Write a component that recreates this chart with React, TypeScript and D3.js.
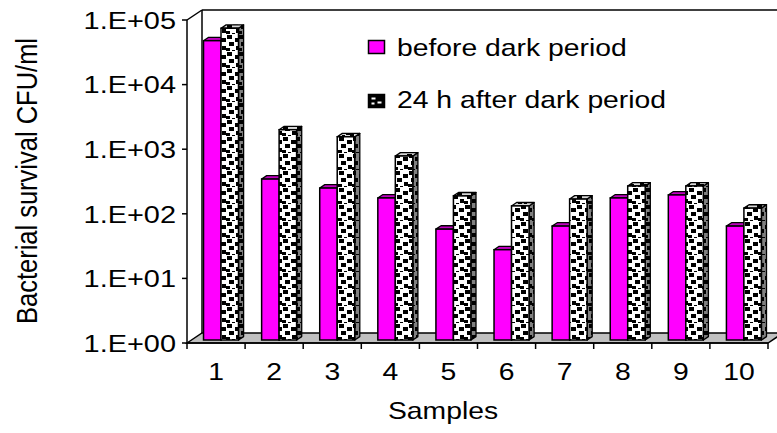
import React from "react";
import * as d3 from "d3";

const categories = ["1", "2", "3", "4", "5", "6", "7", "8", "9", "10"];
const seriesNames = ["before dark period", "24 h after dark period"];
const beforeValues = [43000, 310, 225, 158, 52, 25, 58, 158, 176, 58];
const afterValues = [67000, 1800, 1400, 705, 170, 119, 152, 242, 242, 110];
const yTicks = [1, 10, 100, 1000, 10000, 100000];
const yTickLabels = ["1.E+00", "1.E+01", "1.E+02", "1.E+03", "1.E+04", "1.E+05"];

const W = 777;
const H = 433;
const FONT = "'Liberation Sans', Arial, Helvetica, sans-serif";
const SX = 1.18;

export default function App() {
  const left = 187;
  const right = 768;
  const top = 20;
  const bottom = 343;
  const depth = { dx: 15, dy: -10 };
  const frontF = 0.3;
  const barDepthF = 0.34;

  const y = d3.scaleLog().domain([1, 100000]).range([bottom, top]);
  const x = d3.scaleBand().domain(categories).range([left, right]).padding(0);
  const bw = x.bandwidth();
  const sub = d3
    .scaleBand()
    .domain(seriesNames)
    .range([bw * 0.207, bw * 0.207 + bw * 0.602])
    .padding(0);
  const barW = sub.bandwidth();

  const fx = depth.dx * frontF;
  const fy = depth.dy * frontF;
  const bdx = depth.dx * barDepthF;
  const bdy = depth.dy * barDepthF;

  const txt = (
    key: string,
    tx: number,
    ty: number,
    s: string,
    size: number,
    anchor: string = "start",
    extra: string = ""
  ) => (
    <text
      key={key}
      transform={`translate(${tx},${ty}) scale(${SX},1)${extra}`}
      fontFamily={FONT}
      fontSize={size}
      textAnchor={anchor}
      fill="#000"
    >
      {s}
    </text>
  );

  const bars: React.ReactNode[] = [];
  categories.forEach((c, i) => {
    const vals = [beforeValues[i], afterValues[i]];
    vals.forEach((v, si) => {
      const x0 = (x(c) as number) + (sub(seriesNames[si]) as number) + fx;
      const x1 = x0 + barW;
      const yT = y(v) + fy;
      const yB = bottom + fy;
      const isPat = si === 1;
      const frontFill = isPat ? "url(#confetti)" : "#ff00ff";
      const topFill = isPat ? "url(#confettiTop)" : "#c000c0";
      const sideFill = isPat ? "url(#confettiSide)" : "#a000a0";
      bars.push(
        <g key={`b${i}-${si}`}>
          <polygon
            points={`${x1},${yB} ${x1 + bdx},${yB + bdy} ${x1 + bdx},${yT + bdy} ${x1},${yT}`}
            fill={sideFill}
            stroke="#000"
            strokeWidth={1.3}
            strokeLinejoin="round"
          />
          <polygon
            points={`${x0},${yT} ${x1},${yT} ${x1 + bdx},${yT + bdy} ${x0 + bdx},${yT + bdy}`}
            fill={topFill}
            stroke="#000"
            strokeWidth={1.3}
            strokeLinejoin="round"
          />
          <rect
            x={x0}
            y={yT}
            width={barW}
            height={yB - yT}
            fill={frontFill}
            stroke="#000"
            strokeWidth={1.5}
          />
        </g>
      );
    });
  });

  const patRects = [
    [1, 1, 5, 4],
    [9, 4, 5, 4],
    [3, 8, 5, 4],
    [10, 12, 4, 4],
    [0, 14, 4, 3],
    [6, 16, 3, 1],
  ];

  return (
    <svg
      width={W}
      height={H}
      style={{ position: "absolute", left: 0, top: 0, background: "#fff" }}
    >
      <defs>
        <pattern id="confetti" width={14} height={17} patternUnits="userSpaceOnUse" x={2}>
          <rect width={14} height={17} fill="#fff" />
          {patRects.map((r, k) => (
            <rect key={k} x={r[0]} y={r[1]} width={r[2]} height={r[3]} fill="#000" />
          ))}
        </pattern>
        <pattern id="confettiTop" width={14} height={17} patternUnits="userSpaceOnUse">
          <rect width={14} height={17} fill="#d8d8d8" />
          {patRects.map((r, k) => (
            <rect key={k} x={r[0]} y={r[1]} width={r[2]} height={r[3]} fill="#000" />
          ))}
        </pattern>
        <pattern id="confettiSide" width={14} height={17} patternUnits="userSpaceOnUse">
          <rect width={14} height={17} fill="#808080" />
          {patRects.map((r, k) => (
            <rect key={k} x={r[0]} y={r[1]} width={r[2]} height={r[3]} fill="#000" />
          ))}
        </pattern>
        <pattern id="legendPat" width={16} height={13} patternUnits="userSpaceOnUse" x={368.5} y={94.5}>
          <rect width={16} height={13} fill="#000" />
          <rect x={3} y={3} width={4} height={2} fill="#fff" />
          <rect x={9} y={7} width={4} height={2} fill="#fff" />
          <rect x={3} y={8} width={3} height={2} fill="#fff" />
        </pattern>
      </defs>

      {/* walls */}
      <polygon
        points={`${left},${bottom} ${left + depth.dx},${bottom + depth.dy} ${right + depth.dx},${bottom + depth.dy} ${right},${bottom}`}
        fill="#c0c0c0"
        stroke="#000"
        strokeWidth={1.5}
      />
      <line x1={left + depth.dx} y1={top + depth.dy} x2={left + depth.dx} y2={bottom + depth.dy} stroke="#000" strokeWidth={1.5} />
      <line x1={left} y1={top} x2={left + depth.dx} y2={top + depth.dy} stroke="#000" strokeWidth={1.5} />
      <line x1={left + depth.dx} y1={top + depth.dy} x2={right + depth.dx} y2={top + depth.dy} stroke="#000" strokeWidth={1.5} />

      {bars}

      {/* y axis */}
      <line x1={left} y1={top} x2={left} y2={bottom} stroke="#000" strokeWidth={1.5} />
      {yTicks.map((t, k) => (
        <g key={`yt${k}`}>
          <line x1={left - 5} x2={left} y1={y(t)} y2={y(t)} stroke="#000" strokeWidth={1.5} />
          {txt(`yl${k}`, 176, y(t) + 8.8, yTickLabels[k], 24.5, "end")}
        </g>
      ))}

      {/* x axis */}
      <line x1={left} y1={bottom} x2={right} y2={bottom} stroke="#000" strokeWidth={1.5} />
      {d3.range(categories.length + 1).map((k) => {
        const xx = left + k * bw;
        return <line key={`xt${k}`} x1={xx} x2={xx} y1={bottom} y2={bottom + 6} stroke="#000" strokeWidth={1.5} />;
      })}
      {categories.map((c, k) =>
        txt(`xl${k}`, (x(c) as number) + bw / 2, 380, c, 24, "middle")
      )}

      {txt("xtitle", 443, 419, "Samples", 24, "middle")}
      {txt("ytitle", 37, 181, "Bacterial survival CFU/ml", 25.5, "middle", " rotate(-90)")}

      {/* legend */}
      <rect x={368.5} y={40.5} width={16} height={13} fill="#ff00ff" stroke="#000" strokeWidth={1.5} />
      {txt("lg0", 397, 56, seriesNames[0], 24)}
      <rect x={368.5} y={94.5} width={16} height={13} fill="url(#legendPat)" stroke="#000" strokeWidth={1.5} />
      {txt("lg1", 397, 107.5, seriesNames[1], 24)}
    </svg>
  );
}
